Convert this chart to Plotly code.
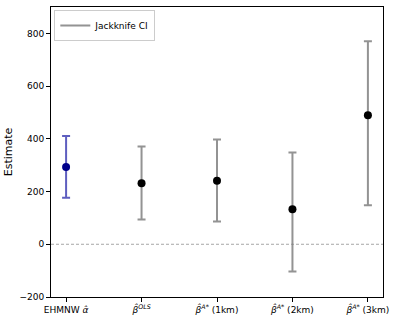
import plotly.graph_objects as go

# estimates and jackknife CIs
labels = ["EHMNW <i>α̂</i>",
          "<i>β̂</i><sup><i>OLS</i></sup>",
          "<i>β̂</i><sup><i>A*</i></sup> (1km)",
          "<i>β̂</i><sup><i>A*</i></sup> (2km)",
          "<i>β̂</i><sup><i>A*</i></sup> (3km)"]
estimates = [293, 231, 241, 133, 489]
ci_upper = [411, 371, 397, 348, 770]
ci_lower = [176, 94, 86, -103, 148]
point_colors = ["#00008b", "black", "black", "black", "black"]
bar_colors = ["rgba(40,40,170,0.75)"] + ["rgba(128,128,128,0.85)"] * 4

fig = go.Figure()

for i in range(len(labels)):
    fig.add_trace(go.Scatter(
        x=[labels[i]], y=[estimates[i]], mode="markers",
        marker=dict(color=point_colors[i], size=8),
        error_y=dict(type="data", symmetric=False,
                     array=[ci_upper[i] - estimates[i]],
                     arrayminus=[estimates[i] - ci_lower[i]],
                     color=bar_colors[i], thickness=2, width=4),
        showlegend=False))

# legend entry only
fig.add_trace(go.Scatter(x=[None], y=[None], mode="lines",
                         line=dict(color="rgba(128,128,128,0.85)", width=2),
                         name="Jackknife CI"))

fig.add_hline(y=0, line=dict(color="gray", width=0.7, dash="3px,2px"))

fig.update_layout(
    width=398, height=324,
    margin=dict(l=51, r=15, t=7, b=27),
    plot_bgcolor="white", paper_bgcolor="white",
    font=dict(family="DejaVu Sans", size=9, color="black"),
    legend=dict(x=0.01, y=0.99, xanchor="left", yanchor="top",
                bordercolor="#cccccc", borderwidth=1, bgcolor="white",
                font=dict(size=9)),
)
fig.update_xaxes(showline=True, linecolor="black", mirror=True,
                 ticks="outside", ticklen=4, tickcolor="black",
                 showgrid=False, range=[-0.2, 4.2], automargin=False)
fig.update_yaxes(showline=True, linecolor="black", mirror=True,
                 ticks="outside", ticklen=4, tickcolor="black",
                 showgrid=False, zeroline=False, range=[-200, 900],
                 automargin=False,
                 tickvals=[-200, 0, 200, 400, 600, 800],
                 ticktext=["−200", "0", "200", "400", "600", "800"],
                 title=dict(text="Estimate", standoff=4))

# drop the browser's default page margin so the figure sits at 0,0
fig.write_html("out.html", config={"displayModeBar": False},
               post_script="document.body.style.margin='0';")
